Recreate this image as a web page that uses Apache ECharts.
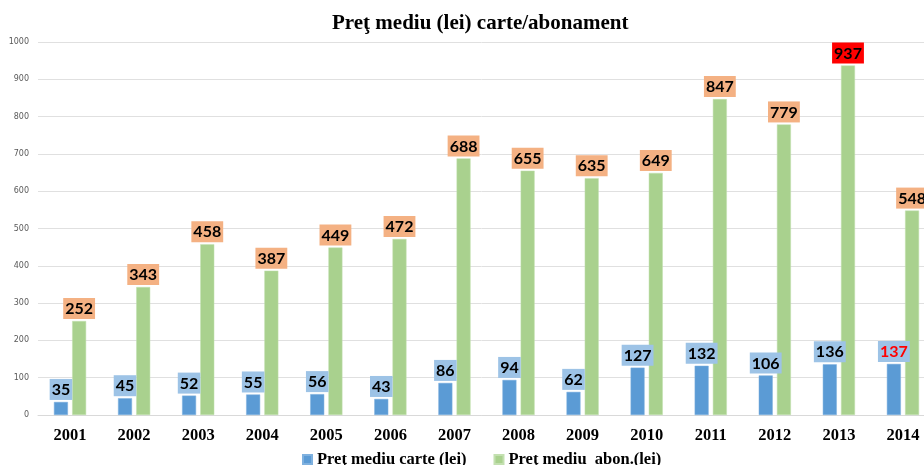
<!DOCTYPE html>
<html>
<head>
<meta charset="utf-8">
<script src="https://cdn.jsdelivr.net/npm/echarts@6/dist/echarts.min.js"></script>
<style>
  html, body { margin: 0; padding: 0; background: #fff; }
  #chart { width: 924px; height: 465px; }
</style>
</head>
<body>
<div id="chart"></div>
<script>
var years = ["2001", "2002", "2003", "2004", "2005", "2006", "2007", "2008", "2009", "2010", "2011", "2012", "2013", "2014"];
var pretCarte = [35, 45, 52, 55, 56, 43, 86, 94, 62, 127, 132, 106, 136, 137];
var pretAbon = [252, 343, 458, 387, 449, 472, 688, 655, 635, 649, 847, 779, 937, 548];

// etichete evidentiate
var carteRosu = "2014";
var abonRosu = "2013";

var serifFont = "Liberation Serif";
var labelFont = "Lato";

function buildData(values, hiliteYear, hilite) {
    var out = [];
    for (var i = 0; i < values.length; i++) {
        if (years[i] === hiliteYear)
            out.push({ value: values[i], label: hilite });
        else
            out.push(values[i]);
    }
    return out;
}

var chart = echarts.init(document.getElementById("chart"));
chart.setOption({
    animation: false,
    title: {
        text: "Preţ mediu (lei) carte/abonament",
        left: 327, top: 8,
        textStyle: { fontFamily: serifFont, fontWeight: "bold", fontSize: 21, color: "#000" }
    },
    legend: {
        left: 297, top: 446,
        itemWidth: 9, itemHeight: 9, itemGap: 27,
        icon: "rect",
        textStyle: { fontFamily: serifFont, fontWeight: "bold", fontSize: 16.5, color: "#000" },
        data: ["Preţ mediu carte (lei)", "Preţ mediu  abon.(lei)"]
    },
    grid: { left: 38, width: 897, top: 42, bottom: 50, containLabel: false, outerBoundsMode: "none" },
    xAxis: {
        type: "category",
        data: years,
        axisTick: { show: false },
        axisLine: { lineStyle: { color: "#d9d9d9", width: 1 } },
        axisLabel: { margin: 12, fontFamily: serifFont, fontWeight: "bold", fontSize: 16.5, color: "#000" }
    },
    yAxis: {
        type: "value",
        min: 0, max: 1000, interval: 100,
        axisLine: { show: false },
        axisTick: { show: false },
        splitLine: { lineStyle: { color: "#e0e0e0" } },
        axisLabel: {
            margin: 9, fontSize: 8, fontFamily: "DejaVu Sans", color: "#595959",
            formatter: function (v) { return String(v); }
        }
    },
    series: [
        {
            name: "Preţ mediu carte (lei)",
            type: "bar",
            barWidth: 14,
            barGap: "30%",
            itemStyle: { color: "#5b9bd5", borderColor: "#7fb1df", borderWidth: 0.5 },
            label: {
                show: true, position: "top", distance: 2,
                backgroundColor: "#9dc3e6", padding: [3, 2, 2, 2],
                fontFamily: labelFont, fontWeight: "bold", fontSize: 16, color: "#000"
            },
            data: buildData(pretCarte, carteRosu, { color: "#ff0000" })
        },
        {
            name: "Preţ mediu  abon.(lei)",
            type: "bar",
            barWidth: 14,
            itemStyle: { color: "#a9d18e", borderColor: "#c3e0b0", borderWidth: 0.5 },
            label: {
                show: true, position: "top", distance: 2,
                backgroundColor: "#f4b183", padding: [3, 2, 2, 2],
                fontFamily: labelFont, fontWeight: "bold", fontSize: 16, color: "#000"
            },
            data: buildData(pretAbon, abonRosu, { backgroundColor: "#ff0000" })
        }
    ]
});
</script>
</body>
</html>
